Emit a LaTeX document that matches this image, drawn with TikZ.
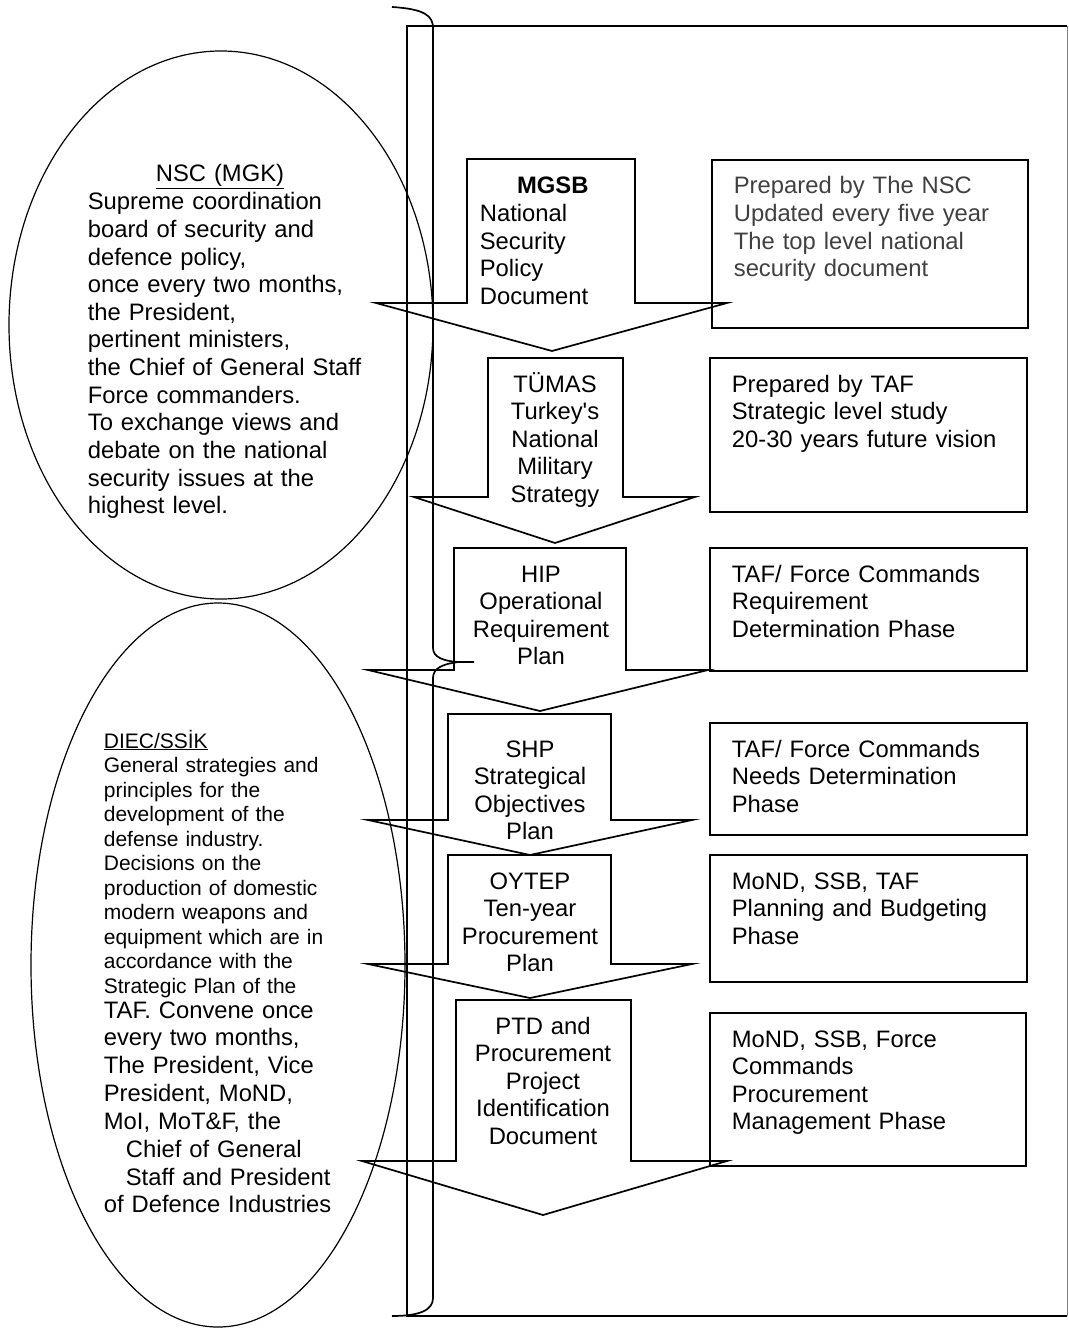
\documentclass[tikz,border=0pt]{standalone}
\usepackage{fontspec}
\setmainfont{Liberation Sans}
\usetikzlibrary{calc}

\begin{document}
\begin{tikzpicture}[x=1pt,y=-1pt,line width=1.7pt,line join=miter,
  txt/.style={inner sep=0pt,anchor=base west,align=left,text width=#1,font=\fontsize{23.8}{27.6}\selectfont},
  txt/.default=300pt,
  ctxt/.style={inner sep=0pt,anchor=base,align=center,text width=200pt,font=\fontsize{23.8}{27.6}\selectfont},
  smalltxt/.style={txt,font=\fontsize{21}{24.5}\selectfont}]
\useasboundingbox (0,0) rectangle (1068,1332);

% frame and brace
\draw (1067,26) -- (407,26) -- (407,1316) -- (1067,1316);
\draw[gray,line width=0.8pt] (1067,26) -- (1067,1316);
\draw (392,7) .. controls (425,9) and (433,16) .. (433,28) -- (433,648)
  .. controls (433,657) and (443,661) .. (458,662) -- (474,662);
\draw (458,662) .. controls (443,664) and (433,668) .. (433,678) -- (433,1298)
  .. controls (433,1310) and (420,1316) .. (392,1316);

% ellipses
\draw[line width=1.2pt] (221,325) ellipse [x radius=212pt, y radius=274pt];
\draw[line width=1.2pt] (218,965) ellipse [x radius=187pt, y radius=362pt];

\node[ctxt] (nsc) at (220,182) {\underline{NSC (MGK)}};
\node[txt] (nsctxt) at (87,210) {Supreme coordination\\board of security and\\defence policy,\\once every two months,\\the President,\\pertinent ministers,\\the Chief of General Staff\\Force commanders.\\To exchange views and\\debate on the national\\security issues at the\\highest level.};

\node[smalltxt] (diec) at (103,748) {\underline{DIEC/SSİK}\\General strategies and\\principles for the\\development of the\\defense industry.\\Decisions on the\\production of domestic\\modern weapons and\\equipment which are in\\accordance with the\\Strategic Plan of the};
\node[txt,font=\fontsize{23.8}{27.85}\selectfont] (diectxt) at (103,1018) {TAF. Convene once\\every two months,\\The President, Vice\\President, MoND,\\MoI, MoT\&F, the\\\hspace*{22pt}Chief of General\\\hspace*{22pt}Staff and President\\of Defence Industries};

% block arrows
\draw (467,159) -- (635,159) -- (635,303) -- (727,303) -- (552,351) -- (376,303) -- (467,303) -- cycle;
\draw (488,358) -- (623,358) -- (623,497) -- (695,497) -- (555,543) -- (414,497) -- (488,497) -- cycle;
\draw (454,548) -- (626,548) -- (626,670) -- (708,670) -- (540,711) -- (368,670) -- (454,670) -- cycle;
\draw (448,714) -- (611,714) -- (611,820) -- (692,820) -- (530,855) -- (368,820) -- (448,820) -- cycle;
\draw (448,855) -- (611,855) -- (611,964) -- (692,964) -- (530,998) -- (368,964) -- (448,964) -- cycle;
\draw (456,1000) -- (631,1000) -- (631,1161) -- (727,1161) -- (543,1215) -- (362,1161) -- (456,1161) -- cycle;

\node[txt=146pt] (mgsb) at (479,194) {\makebox[\linewidth]{\textbf{MGSB}}\\National\\Security\\Policy\\Document};
\node[ctxt] (tumas) at (555,392) {TÜMAS\\Turkey\textquotesingle s\\National\\Military\\Strategy};
\node[ctxt] (hip) at (541,582) {HIP\\Operational\\Requirement\\Plan};
\node[ctxt] (shp) at (530,757) {SHP\\Strategical\\Objectives\\Plan};
\node[ctxt] (oytep) at (530,889) {OYTEP\\Ten-year\\Procurement\\Plan};
\node[ctxt] (ptd) at (543,1034) {PTD and\\Procurement\\Project\\Identification\\Document};

% phase boxes
\draw (712,160) rectangle (1028,328);
\draw (710,358) rectangle (1027,512);
\draw (710,548) rectangle (1027,671);
\draw (710,723) rectangle (1027,835);
\draw (710,855) rectangle (1027,982);
\draw (710,1013) rectangle (1026,1166);

\node[txt,text=black!75] (p1) at (733,194) {Prepared by The NSC\\Updated every five year\\The top level national\\security document};
\node[txt] (p2) at (731,392) {Prepared by TAF\\Strategic level study\\20-30 years future vision};
\node[txt] (p3) at (731,582) {TAF/ Force Commands\\Requirement\\Determination Phase};
\node[txt] (p4) at (731,757) {TAF/ Force Commands\\Needs Determination\\Phase};
\node[txt] (p5) at (731,889) {MoND, SSB, TAF\\Planning and Budgeting\\Phase};
\node[txt] (p6) at (731,1047) {MoND, SSB, Force\\Commands\\Procurement\\Management Phase};
\end{tikzpicture}
\end{document}
